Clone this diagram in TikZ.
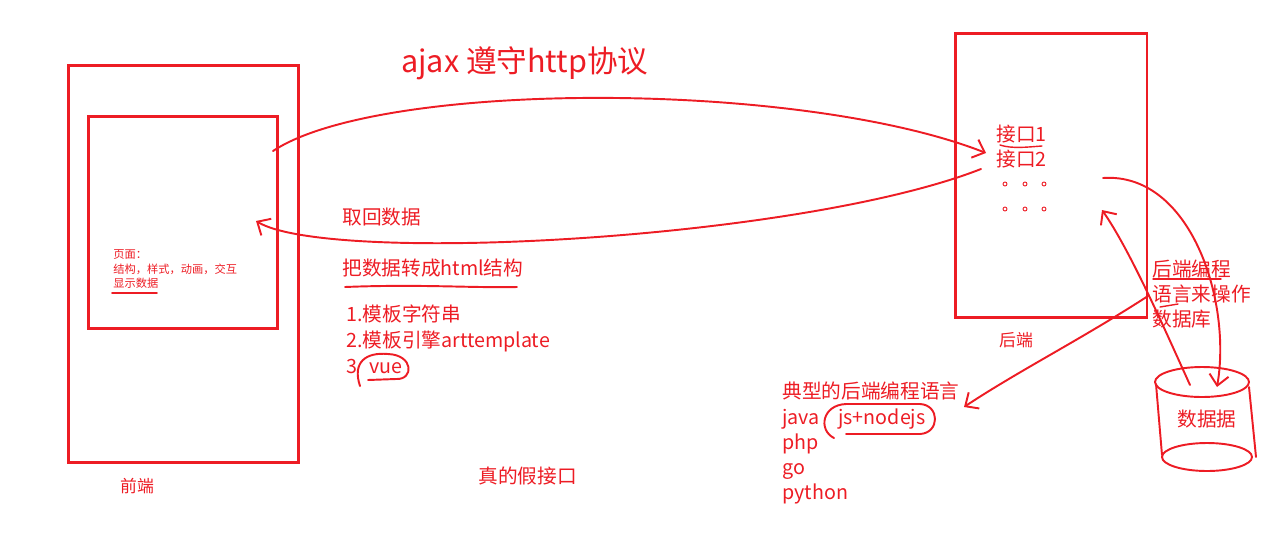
\documentclass[tikz,border=0pt]{standalone}
\usepackage{fontspec}
\setmainfont{Noto Sans CJK SC}
\definecolor{PaintRed}{RGB}{237,28,36}
\usetikzlibrary{arrows.meta}

\begin{document}
\begin{tikzpicture}[x=0.02cm, y=-0.02cm,
    every node/.style={text=PaintRed, inner sep=0pt, anchor=west,
                       text height=0.86em, text depth=0.14em},
    frame/.style={draw=PaintRed, line width=1.7pt, anchor=center},
    pen/.style={draw=PaintRed, line width=1.1pt, line cap=round, line join=round},
    arr/.style={pen, -{Straight Barb[length=6pt, width=11pt]}},
    title/.style={font=\fontsize{17.4}{20}\selectfont},
    note/.style={font=\fontsize{11.2}{14}\selectfont},
    tiny/.style={font=\fontsize{6.4}{8}\selectfont},
    tag/.style={font=\fontsize{9.6}{12}\selectfont, anchor=center}
  ]
  \useasboundingbox (0,0) rectangle (1271,538);

  % front end
  \node[frame, minimum width=4.62cm, minimum height=7.96cm] (front) at (183.5,264) {};
  \node[frame, minimum width=3.8cm, minimum height=4.26cm] (page) at (183,222.5) {};
  \node[tiny] (pagehead) at (113,252) {页面：};
  \node[tiny] (pageparts) at (113,267) {结构，样式，动画，交互};
  \node[tiny] (pageshow) at (113,281) {显示数据};
  \draw[pen] (112,293) -- (157,293);
  \node[tag] (frontlbl) at (137,486) {前端};

  % back end
  \node[frame, minimum width=3.84cm, minimum height=5.7cm] (backend) at (1051,175.5) {};
  \node[note] (api1) at (996,135) {接口1};
  \node[note] (api2) at (996,160) {接口2};
  \draw[pen, line width=0.8pt] (1000,145) .. controls (1012,149) and (1028,147) .. (1042,146);
  \foreach \col in {1005,1025,1044} {
    \foreach \row in {184,209} {
      \draw[draw=PaintRed, line width=0.5pt] (\col,\row) circle (2);
    }
  }
  \node[tag] (backlbl) at (1016,340) {后端};

  % request / response
  \node[title] (ajax) at (401,66) {ajax 遵守http协议};
  \node[note] (fetch) at (342,218) {取回数据};
  \node[note] (tohtml) at (342,269) {把数据转成html结构};
  \draw[pen] (345,287) .. controls (420,284) and (470,288) .. (517,287);
  \node[note] (way1) at (346,315) {1.模板字符串};
  \node[note] (way2) at (346,341) {2.模板引擎arttemplate};
  \node[note] (way3) at (346,367) {3};
  \node[note] (vue) at (369,367) {vue};
  \draw[pen] (360,386) .. controls (352,362) and (366,352) .. (388,354)
    .. controls (414,355) and (414,380) .. (396,379) -- (368,380);
  \node[note] (fake) at (478,477) {真的假接口};

  \coordinate (reqstart) at (273,151);
  \coordinate (reqtip) at (986,153);
  \coordinate (resstart) at (981,169);
  \coordinate (restip) at (256,221);
  \draw[arr] (reqstart) .. controls (380,80) and (800,80) .. (reqtip);
  \draw[arr] (resstart) .. controls (800,240) and (330,265) .. (restip);

  % languages
  \node[note] (langs) at (1152,270) {后端编程};
  \node[note] (langs2) at (1152,295) {语言来操作};
  \node[note] (langs3) at (1152,320) {数据库};
  \draw[pen, line width=0.8pt] (1153,279) -- (1221,279);
  \draw[pen, line width=0.8pt] (1160,307) -- (1178,304);
  \node[note] (typical) at (782,392) {典型的后端编程语言};
  \node[note] (java) at (782,418) {java};
  \node[note] (node) at (838,418) {js+nodejs};
  \draw[pen] (834,438) .. controls (818,430) and (822,405) .. (846,404) -- (920,404)
    .. controls (940,405) and (940,433) .. (920,434) -- (846,434);
  \foreach \lang [count=\i] in {php,go,python} {
    \node[note] (lang\i) at (782,418+25*\i) {\lang};
  }
  \coordinate (langsrc) at (1148,296);
  \coordinate (langtip) at (964,407);
  \draw[arr] (langsrc) .. controls (1080,340) and (1020,370) .. (langtip);

  % database
  \draw[pen] (1202,382) ellipse (47 and 15);
  \draw[pen] (1207,457) ellipse (45 and 14);
  \draw[pen] (1156,384) -- (1162,455);
  \draw[pen] (1249,387) -- (1256,457);
  \node[note, anchor=center] (db) at (1207,420) {数据据};
  \coordinate (dbout) at (1103,178);
  \coordinate (dbtip) at (1217,387);
  \coordinate (dbfrom) at (1190,385);
  \coordinate (apitip) at (1102,210);
  \draw[arr] (dbout) .. controls (1190,172) and (1232,300) .. (dbtip);
  \draw[arr] (dbfrom) .. controls (1165,330) and (1130,250) .. (apitip);
\end{tikzpicture}
\end{document}
